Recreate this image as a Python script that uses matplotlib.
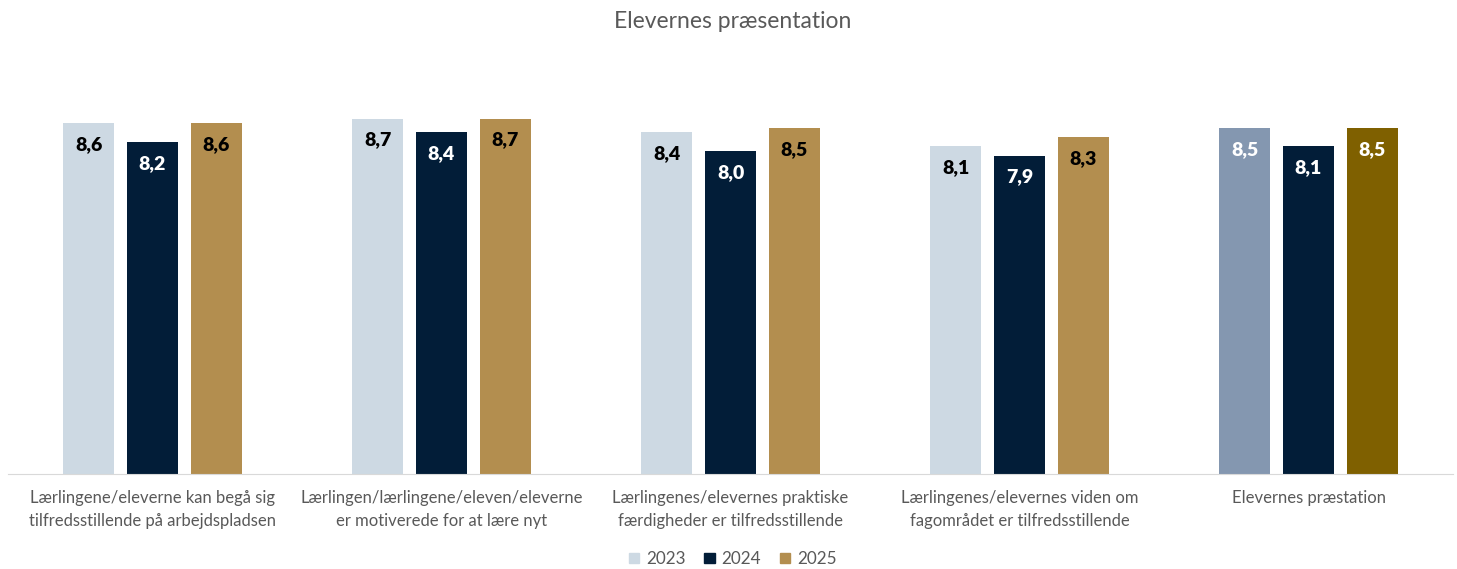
import numpy as np
import matplotlib.pyplot as plt
from matplotlib.patches import Patch

plt.rcParams['font.family'] = ['Lato', 'DejaVu Sans']

categories = [
    'Lærlingene/eleverne kan begå sig\ntilfredsstillende på arbejdspladsen',
    'Lærlingen/lærlingene/eleven/eleverne\ner motiverede for at lære nyt',
    'Lærlingenes/elevernes praktiske\nfærdigheder er tilfredsstillende',
    'Lærlingenes/elevernes viden om\nfagområdet er tilfredsstillende',
    'Elevernes præstation',
]
years = ['2023', '2024', '2025']
v2023 = [8.6, 8.7, 8.4, 8.1, 8.5]
v2024 = [8.2, 8.4, 8.0, 7.9, 8.1]
v2025 = [8.6, 8.7, 8.5, 8.3, 8.5]

colors = ['#CDD9E3', '#021D38', '#B38E4F']
# the summary group uses stronger shades
summary_colors = ['#8497B0', '#021D38', '#7F6000']
text_colors = ['black', 'white', 'black']
summary_text = ['white', 'white', 'white']

fig = plt.figure(figsize=(14.57, 5.69), dpi=100)
ax = fig.add_axes([8 / 1457, 1 - 474.3 / 569, 1445 / 1457, (474.3 - 58.5) / 569])

x = np.arange(len(categories))
width = 0.176
step = 0.221
series = [v2023, v2024, v2025]
for j, vals in enumerate(series):
    xs = x + (j - 1) * step
    cols = [colors[j]] * (len(vals) - 1) + [summary_colors[j]]
    tcols = [text_colors[j]] * (len(vals) - 1) + [summary_text[j]]
    ax.bar(xs, vals, width=width, color=cols)
    for xi, v, tc in zip(xs, vals, tcols):
        ax.annotate(f'{v:.1f}'.replace('.', ','), (xi, v), xytext=(0, -15.5),
                    textcoords='offset points', ha='center', va='center',
                    fontsize=14, fontweight='heavy', color=tc)

ax.set_ylim(1, 10)
ax.set_xlim(-0.5, len(categories) - 0.5)
ax.set_yticks([])
ax.set_xticks(x)
ax.set_xticklabels(categories, fontsize=12, color='#595959', linespacing=1.55)
ax.tick_params(axis='x', length=0, pad=11)
for s in ['top', 'right', 'left']:
    ax.spines[s].set_visible(False)
ax.spines['bottom'].set_color('#D9D9D9')

fig.text(0.503, 1 - 21 / 569, 'Elevernes præsentation', ha='center', va='center',
         fontsize=16.5, color='#595959')

handles = [Patch(color=c) for c in colors]
fig.legend(handles, years, loc='center', bbox_to_anchor=(0.503, 1 - 559 / 569),
           ncol=3, frameon=False, fontsize=12.3, labelcolor='#595959',
           handlelength=0.6, handleheight=0.6, handletextpad=0.4, columnspacing=1.1)

fig.savefig('out.png', dpi=100)
